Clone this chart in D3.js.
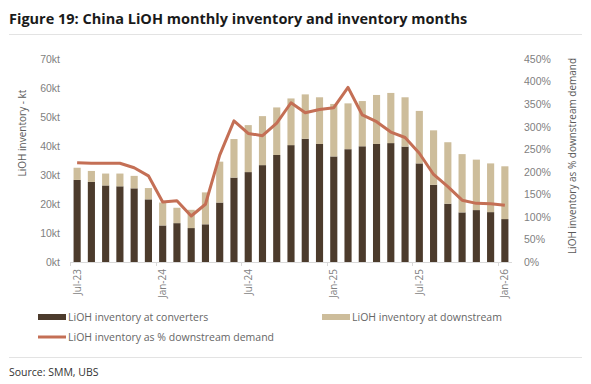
<!DOCTYPE html>
<html>
<head>
<meta charset="utf-8">
<script src="https://cdn.jsdelivr.net/npm/d3@7"></script>
<style>
  body { margin: 0; background: #fff; }
  svg { font-family: "Open Sans", "Noto Sans", sans-serif; }
</style>
</head>
<body>
<svg id="chart" width="591" height="384"></svg>
<script>
// monthly data, Jul-23 .. Jan-26
const months = ['Jul-23', 'Aug-23', 'Sep-23', 'Oct-23', 'Nov-23', 'Dec-23',
  'Jan-24', 'Feb-24', 'Mar-24', 'Apr-24', 'May-24', 'Jun-24',
  'Jul-24', 'Aug-24', 'Sep-24', 'Oct-24', 'Nov-24', 'Dec-24',
  'Jan-25', 'Feb-25', 'Mar-25', 'Apr-25', 'May-25', 'Jun-25',
  'Jul-25', 'Aug-25', 'Sep-25', 'Oct-25', 'Nov-25', 'Dec-25', 'Jan-26'];
const tickMonths = ['Jul-23', 'Jan-24', 'Jul-24', 'Jan-25', 'Jul-25', 'Jan-26'];

// kt
const converters = [28.3, 27.6, 26.4, 26.1, 25.4, 21.6, 12.6, 13.4, 11.7, 13.0, 20.5, 29.1,
  31.0, 33.4, 36.9, 40.3, 42.5, 40.7, 36.4, 38.9, 39.9, 40.7, 41.0, 39.8,
  34.0, 26.6, 20.1, 17.1, 17.9, 17.2, 14.8];
const downstream = [4.2, 3.8, 4.1, 4.4, 4.3, 3.9, 7.9, 5.3, 6.3, 11.0, 14.1, 13.3,
  16.2, 16.9, 16.4, 16.1, 15.3, 16.1, 18.1, 15.8, 15.6, 16.9, 17.3, 17.0,
  18.1, 18.8, 21.2, 20.1, 17.4, 16.8, 18.2];
// % of downstream demand
const pctDemand = [220, 219, 219, 219, 209, 191, 133, 136, 102, 128, 237, 313,
  285, 280, 308, 353, 331, 338, 342, 387, 326, 311, 288, 276,
  241, 194, 167, 137, 130, 129, 126];

const kTicks = [0, 10, 20, 30, 40, 50, 60, 70];
const pTicks = [0, 50, 100, 150, 200, 250, 300, 350, 400, 450];

const colConv = '#4c3b2c';
const colDown = '#cdbd9b';
const colLine = '#c46f55';
const colText = '#7f7f7f';

const svg = d3.select('#chart');
const margin = {top: 59, right: 79, bottom: 122, left: 70};
const plotW = 591 - margin.left - margin.right;
const plotH = 384 - margin.top - margin.bottom;

// title
svg.append('text')
  .attr('x', 9).attr('y', 24)
  .attr('font-size', '14.5px')
  .attr('font-weight', 700)
  .attr('fill', '#1a1a1a')
  .text('Figure 19: China LiOH monthly inventory and inventory months');
svg.append('line')
  .attr('x1', 9).attr('x2', 582).attr('y1', 34.5).attr('y2', 34.5)
  .attr('stroke', '#e3e3e3');

const g = svg.append('g')
  .attr('transform', `translate(${margin.left}, ${margin.top})`);

const x = d3.scaleBand()
  .domain(months)
  .range([0, plotW])
  .paddingInner(0.5)
  .paddingOuter(0.25);
const yL = d3.scaleLinear().domain([0, 70]).range([plotH, 0]);
const yR = d3.scaleLinear().domain([0, 450]).range([plotH, 0]);

// stacked bars
const rows = months.map((m, i) => ({month: m, conv: converters[i], down: downstream[i]}));
const stack = d3.stack().keys(['conv', 'down'])(rows);
const colors = [colConv, colDown];

g.selectAll('.series')
  .data(stack)
  .join('g')
  .attr('class', 'series')
  .attr('fill', (d, i) => colors[i])
  .selectAll('rect')
  .data(d => d)
  .join('rect')
  .attr('x', d => x(d.data.month))
  .attr('width', x.bandwidth())
  .attr('y', d => yL(d[1]))
  .attr('height', d => yL(d[0]) - yL(d[1]));

// x axis
g.append('line')
  .attr('x1', 0).attr('x2', plotW)
  .attr('y1', plotH + 0.5).attr('y2', plotH + 0.5)
  .attr('stroke', '#d9d9d9');
const gap = (x.step() - x.bandwidth()) / 2;
g.selectAll('.xtick')
  .data(tickMonths)
  .join('line')
  .attr('class', 'xtick')
  .attr('x1', d => Math.round(x(d) - gap) + 0.5)
  .attr('x2', d => Math.round(x(d) - gap) + 0.5)
  .attr('y1', plotH)
  .attr('y2', plotH + 4)
  .attr('stroke', '#d9d9d9');
g.selectAll('.xlab')
  .data(tickMonths)
  .join('text')
  .attr('class', 'xlab')
  .attr('transform', d => `translate(${x(d) + x.bandwidth() / 2 + 3.5}, ${plotH + 7}) rotate(-90)`)
  .attr('text-anchor', 'end')
  .attr('font-size', '10px')
  .attr('fill', colText)
  .text(d => d);

// left axis
const axL = d3.axisLeft(yL).tickValues(kTicks).tickSize(0).tickPadding(10)
  .tickFormat(d => d + 'kt');
g.append('g').call(axL)
  .call(s => s.select('.domain').remove())
  .selectAll('text')
  .attr('font-size', '10.5px')
  .attr('fill', colText)
  .attr('font-family', null);

// right axis
const axR = d3.axisRight(yR).tickValues(pTicks).tickSize(0).tickPadding(12)
  .tickFormat(d => d + '%');
g.append('g').attr('transform', `translate(${plotW}, 0)`).call(axR)
  .call(s => s.select('.domain').remove())
  .selectAll('text')
  .attr('font-size', '10.5px')
  .attr('fill', colText)
  .attr('font-family', null);

// axis titles
svg.append('text')
  .attr('transform', 'translate(26, 133) rotate(-90)')
  .attr('text-anchor', 'middle')
  .attr('font-size', '10px')
  .attr('fill', '#595959')
  .text('LiOH inventory - kt');
svg.append('text')
  .attr('transform', 'translate(576, 156) rotate(-90)')
  .attr('text-anchor', 'middle')
  .attr('font-size', '10px')
  .attr('fill', '#595959')
  .text('LiOH inventory as % downstream demand');

// line
const line = d3.line()
  .x((d, i) => x(months[i]) + x.bandwidth() / 2)
  .y(d => yR(d));
g.append('path')
  .datum(pctDemand)
  .attr('fill', 'none')
  .attr('stroke', colLine)
  .attr('stroke-width', 3)
  .attr('stroke-linejoin', 'round')
  .attr('d', line);

// legend
const legend = svg.append('g').attr('font-size', '10.5px').attr('fill', '#666');
const legItems = [
  {label: 'LiOH inventory at converters', x: 38, y: 317, type: 'rect', color: colConv},
  {label: 'LiOH inventory at downstream', x: 322, y: 317, type: 'rect', color: colDown},
  {label: 'LiOH inventory as % downstream demand', x: 38, y: 337, type: 'line', color: colLine},
];
legItems.forEach(it => {
  if (it.type === 'rect') {
    legend.append('rect')
      .attr('x', it.x).attr('y', it.y - 3).attr('width', 28).attr('height', 6)
      .attr('fill', it.color);
  } else {
    legend.append('line')
      .attr('x1', it.x).attr('x2', it.x + 28).attr('y1', it.y).attr('y2', it.y)
      .attr('stroke', it.color).attr('stroke-width', 3);
  }
  legend.append('text')
    .attr('x', it.x + 30).attr('y', it.y + 4)
    .text(it.label);
});

// footer
svg.append('line')
  .attr('x1', 9).attr('x2', 582).attr('y1', 357.5).attr('y2', 357.5)
  .attr('stroke', '#e3e3e3');
svg.append('text')
  .attr('x', 9).attr('y', 376)
  .attr('font-size', '10.5px')
  .attr('fill', '#333')
  .text('Source: SMM, UBS');
</script>
</body>
</html>
